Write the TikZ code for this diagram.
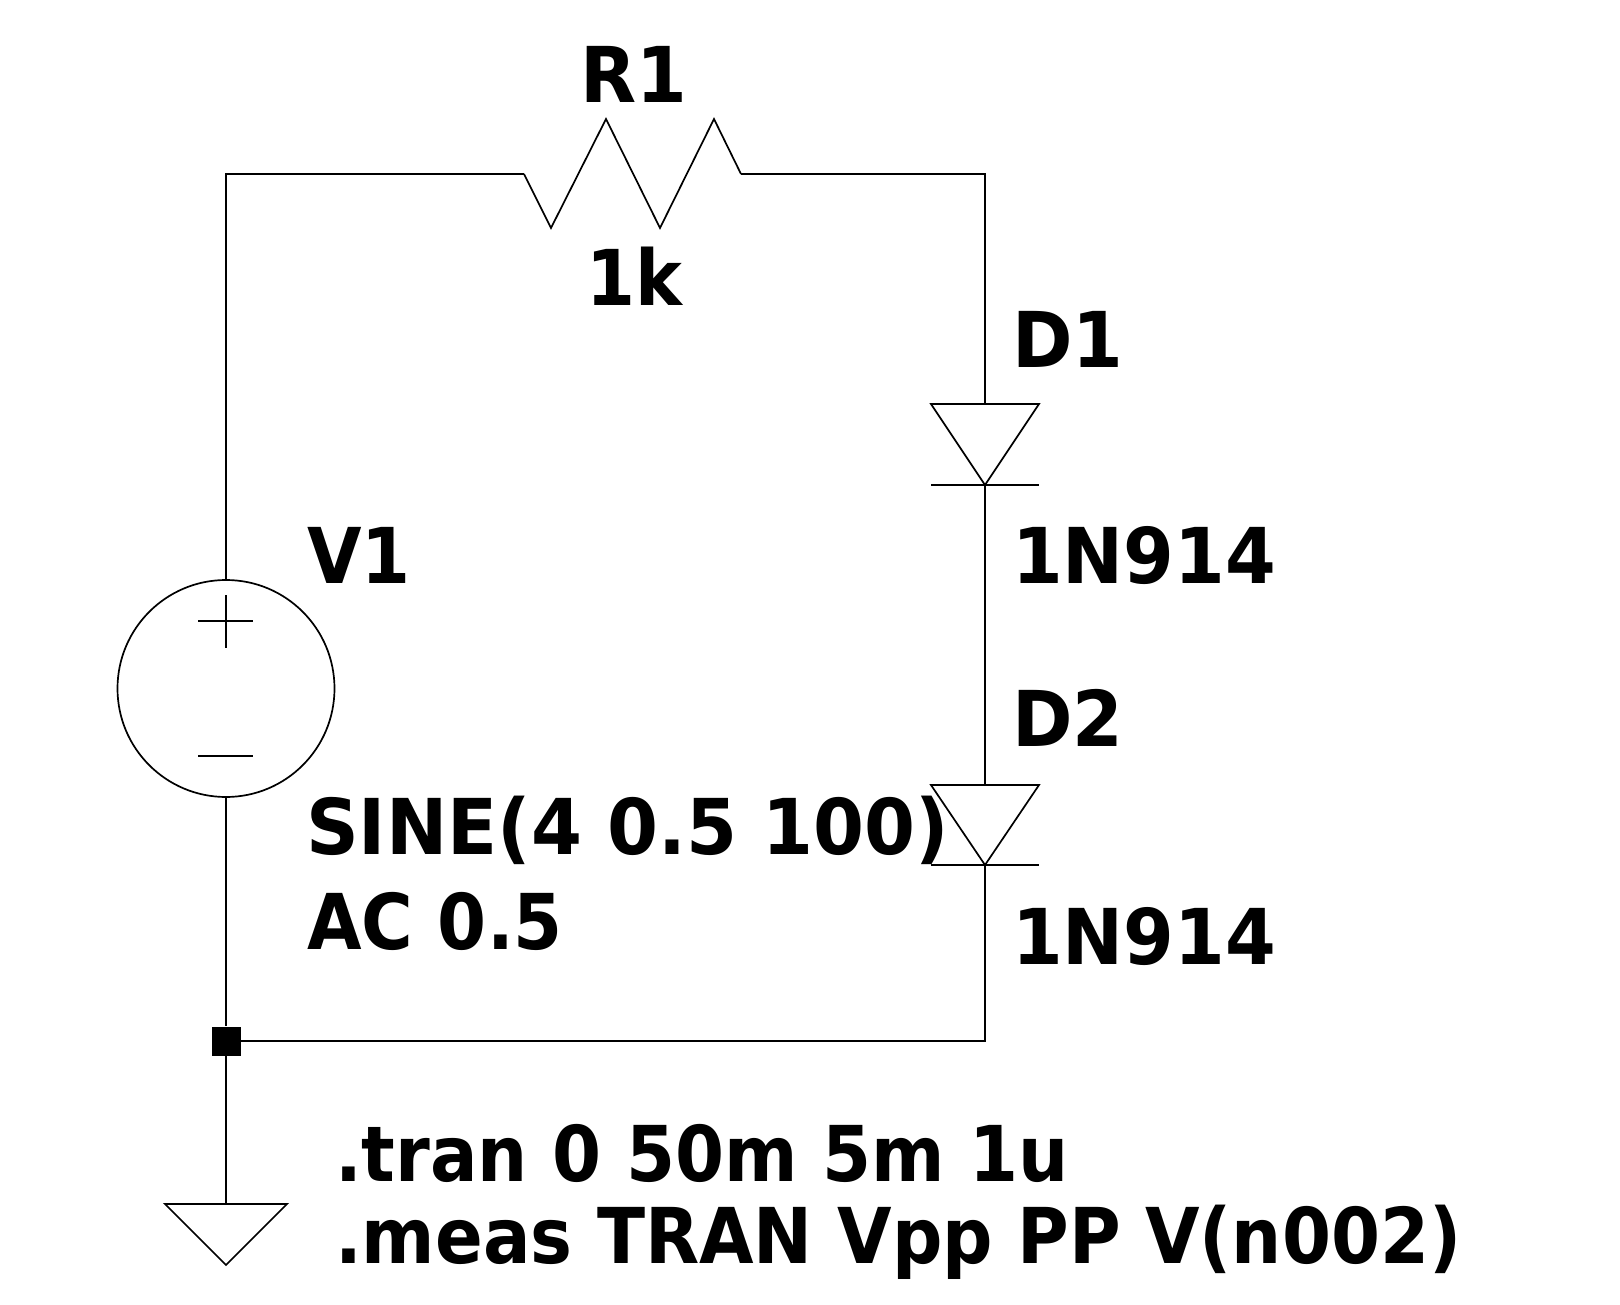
\documentclass[tikz,border=0pt]{standalone}
\usepackage{graphicx}
\usepackage{fontspec}
\setmainfont{DejaVu Sans}[BoldFont={DejaVu Sans Bold},BoldFeatures={FakeStretch=0.915}]
\usepackage{tikz}
\newcommand{\wlbl}[1]{\scalebox{1.035}[1]{#1}}
\tikzset{
  wire/.style={line width=1.7pt, line join=miter},
  lbl/.style={anchor=base west, inner sep=0pt, font=\fontsize{77pt}{77pt}\selectfont\bfseries},
}
\begin{document}
\begin{tikzpicture}[x=1pt,y=-1pt]
      \useasboundingbox (0,0) rectangle (1620,1305);
      % corners of the loop
      \coordinate (tl) at (226,174);
      \coordinate (tr) at (985,174);
      \coordinate (br) at (985,1041);
      \coordinate (r1a) at (524,174);
      \coordinate (r1b) at (741,174);
      % source
      \node[circle, draw, line width=1.7pt, minimum size=217pt, inner sep=0pt] (v1) at (226,688.5) {};
      \draw[wire] (198,621)--(253,621);
      \draw[wire] (226,595)--(226,648);
      \draw[wire] (198,756)--(253,756);
      % resistor
      \draw[wire] (r1a)--(551,228)--(606,119)--(660,228)--(714,119)--(r1b);
      % diodes
      \coordinate (d1a) at (985,404);
      \coordinate (d1k) at (985,485);
      \coordinate (d2a) at (985,785);
      \coordinate (d2k) at (985,865);
      \draw[wire] (931,404)--(1039,404)--(d1k)--cycle;
      \draw[wire] (931,485)--(1039,485);
      \draw[wire] (931,785)--(1039,785)--(d2k)--cycle;
      \draw[wire] (931,865)--(1039,865);
      % junction and ground
      \node[fill=black, minimum size=29pt, inner sep=0pt] (jct) at (226,1041) {};
      \coordinate (gnd) at (226,1204);
      \draw[wire] (165,1204)--(287,1204)--(226,1265)--cycle;
      % wires
      \draw[wire] (v1.north)--(tl)--(r1a);
      \draw[wire] (r1b)--(tr)--(d1a);
      \draw[wire] (d1k)--(d2a);
      \draw[wire] (d2k)--(br)--(jct.east);
      \draw[wire] (v1.south)--(jct.north);
      \draw[wire] (jct.south)--(gnd);
      % labels
      \node[lbl] (r1name) at (580,103) {\wlbl{R1}};
      \node[lbl] (r1val) at (586,306) {1k};
      \node[lbl] (d1name) at (1012,368) {\wlbl{D1}};
      \node[lbl] (d1val) at (1012,583) {\wlbl{1N914}};
      \node[lbl] (d2name) at (1012,746) {\wlbl{D2}};
      \node[lbl] (d2val) at (1012,964.5) {\wlbl{1N914}};
      \node[lbl] (v1name) at (307,583) {V1};
      \node[lbl] (v1sine) at (306,854.5) {\scalebox{1.04}[1]{SINE(4 0.5 100)}};
      \node[lbl] (v1ac) at (307,949) {AC 0.5};
      \node[lbl] (tran) at (335,1181) {.tran 0 50m 5m 1u};
      \node[lbl] (meas) at (335,1263) {.meas TRAN Vpp PP V(n002)};
    \end{tikzpicture}
\end{document}
